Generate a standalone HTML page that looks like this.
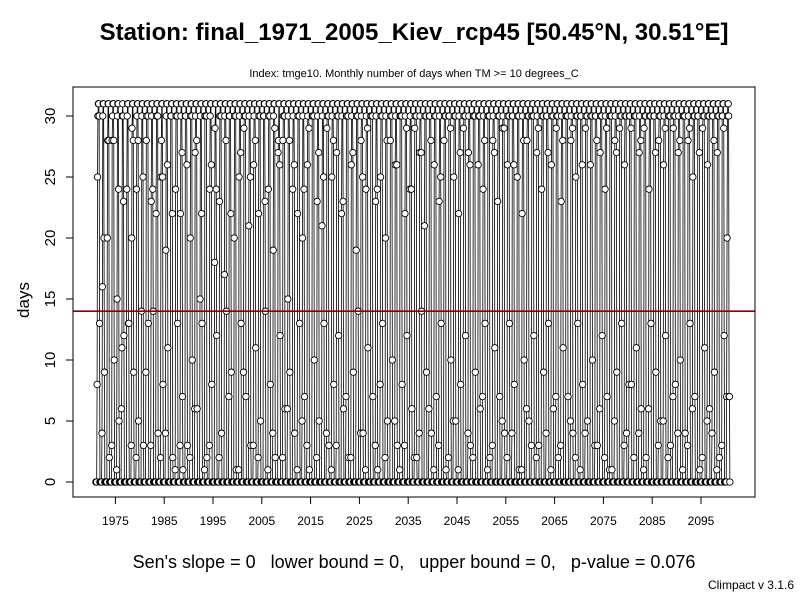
<!DOCTYPE html>
<html><head><meta charset="utf-8"><style>
body{margin:0;background:#fff}
svg{display:block;font-family:"Liberation Sans",Arial,sans-serif}
</style></head><body>
<svg id="c" width="800" height="600" viewBox="0 0 800 600">
<rect width="800" height="600" fill="#fff"/>
<text x="414" y="40" font-size="24" font-weight="bold" text-anchor="middle">Station: final_1971_2005_Kiev_rcp45 [50.45°N, 30.51°E]</text>
<text x="414" y="77" font-size="11" text-anchor="middle">Index: tmge10. Monthly number of days when TM &gt;= 10 degrees_C</text>
<text transform="translate(29,300) rotate(-90)" font-size="17" text-anchor="middle">days</text>
<text x="414" y="568" font-size="18" text-anchor="middle" style="white-space:pre">Sen's slope = 0   lower bound = 0,   upper bound = 0,   p-value = 0.076</text>
<text x="794" y="589" font-size="12" text-anchor="end">Climpact v 3.1.6</text>
<g id="plot"></g>
<rect x="73" y="87" width="682" height="410" fill="none" stroke="#000" stroke-width="1"/>
</svg>
<script>
const startYear = 1971;
const yTicks = [0,5,10,15,20,25,30];
const xTicks = [1975,1985,1995,2005,2015,2025,2035,2045,2055,2065,2075,2085,2095];
const trendValue = 14;
const aprVals = [8,4,0,3,1,6,0,3,2,0,
 9,3,0,2,4,0,1,3,0,2,
 6,0,1,3,0,2,0,7,0,1,
 9,0,3,2,0,1,4,0,2,6,
 0,1,5,3,0,2,0,4,1,3,
 0,7,2,0,4,1,0,3,8,2,
 0,5,1,3,0,2,4,0,6,1,
 3,0,2,5,1,0,4,2,0,7,
 1,3,0,5,2,4,0,1,6,3,
 2,0,4,1,7,3,0,5,2,1,
 4,0,3,6,2,1,5,0,3,8,
 2,4,1,6,0,3,5,2,7,4,
 1,3,6,0,2,5,4,1,3,7];
const mayVals = [25,16,20,28,15,11,24,20,24,14,
 28,23,22,25,19,30,24,22,30,20,
 27,15,30,24,18,23,17,30,20,25,
 29,21,26,22,30,24,19,27,28,15,
 24,22,20,26,30,23,21,29,25,27,
 22,30,26,19,28,24,30,23,25,20,
 28,26,30,22,24,29,27,21,30,26,
 23,28,30,25,22,29,27,30,26,24,
 30,28,23,29,26,30,25,22,28,30,
 27,24,30,26,29,23,30,28,25,30,
 29,26,30,27,24,30,28,29,26,30,
 30,27,29,24,30,28,26,30,29,27,
 30,28,25,30,29,26,30,27,30,20];
const junVals = [30,30,28,30,30,30,30,29,30,30,
 30,30,30,28,30,30,30,30,30,30,
 30,30,30,30,29,30,30,30,30,30,
 30,30,30,30,30,30,30,28,30,30,
 30,30,30,30,30,30,30,30,30,30,
 30,30,30,30,30,30,30,30,30,30,
 30,30,30,30,30,30,30,30,30,30,
 30,30,30,30,30,30,30,30,30,30,
 30,30,30,30,30,30,30,30,30,30,
 30,30,30,30,30,30,30,30,30,30,
 30,30,30,30,30,30,30,30,30,30,
 30,30,30,30,30,30,30,30,30,30,
 30,30,30,30,30,30,30,30,30,30];
const julVals = [31,31,31,31,31,31,31,31,31,31,
 31,31,31,31,31,31,31,31,31,31,
 31,31,31,31,31,31,31,31,31,31,
 31,31,31,31,31,31,31,31,31,31,
 31,31,31,31,31,31,31,31,31,31,
 31,31,31,31,31,31,31,31,31,31,
 31,31,31,31,31,31,31,31,31,31,
 31,31,31,31,31,31,31,31,31,31,
 31,31,31,31,31,31,31,31,31,31,
 31,31,31,31,31,31,31,31,31,31,
 31,31,31,31,31,31,31,31,31,31,
 31,31,31,31,31,31,31,31,31,31,
 31,31,31,31,31,31,31,31,31,31];
const augVals = [31,31,31,31,31,30,31,31,31,31,
 31,31,31,31,31,31,31,31,31,31,
 31,31,31,31,31,31,31,31,31,31,
 31,31,31,31,31,31,31,31,31,31,
 31,31,31,31,31,31,31,31,31,31,
 31,31,31,31,31,31,31,31,31,31,
 31,31,31,31,31,31,31,31,31,31,
 31,31,31,31,31,31,31,31,31,31,
 31,31,31,31,31,31,31,31,31,31,
 31,31,31,31,31,31,31,31,31,31,
 31,31,31,31,31,31,31,31,31,31,
 31,31,31,31,31,31,31,31,31,31,
 31,31,31,31,31,31,31,31,31,31];
const sepVals = [30,20,28,28,24,23,13,28,28,25,
 30,24,30,25,26,22,30,27,26,30,
 28,22,30,26,24,30,28,22,30,27,
 30,25,28,30,23,30,29,26,30,28,
 26,30,24,29,30,27,25,30,28,30,
 23,30,27,30,25,29,30,24,30,28,
 30,26,30,29,24,30,27,30,28,30,
 25,30,29,30,27,30,26,30,30,28,
 30,27,30,29,30,26,30,28,30,30,
 29,30,27,30,30,28,30,29,30,26,
 30,30,28,30,29,30,27,30,30,29,
 30,28,30,30,27,30,29,30,30,28,
 30,29,30,27,30,30,28,30,29,30];
const octVals = [13,9,2,10,5,12,13,9,5,3,
 13,14,4,8,11,2,13,7,3,10,
 6,13,2,8,12,4,14,9,1,13,
 7,3,11,5,14,8,2,12,6,9,
 4,13,7,1,10,5,13,3,8,12,
 6,2,9,14,4,11,7,1,13,5,
 10,3,8,12,6,2,14,9,4,7,
 13,1,10,5,8,12,3,9,6,13,
 2,11,7,4,13,8,1,10,5,12,
 3,9,13,6,2,11,7,4,13,8,
 5,10,3,12,7,1,9,13,4,8,
 11,6,2,13,9,5,12,3,8,10,
 4,13,7,1,11,6,9,2,12,7];
const janVals = [0,0,0,0,0,0,0,0,0,0,0,0,0,0,0,0,0,0,0,0,0,0,0,0,0,0,0,0,0,0,0,0,0,0,0,0,0,0,0,0,0,0,0,0,0,0,0,0,0,0,0,0,0,0,0,0,0,0,0,0,0,0,0,0,0,0,0,0,0,0,0,0,0,0,0,0,0,0,0,0,0,0,0,0,0,0,0,0,0,0,0,0,0,0,0,0,0,0,0,0,0,0,0,0,0,0,0,0,0,0,0,0,0,0,0,0,0,0,0,0,0,0,0,0,0,0,0,0,0,0];
const novVals = [0,0,0,0,0,0,0,0,0,0,0,0,0,0,0,0,0,1,0,0,0,0,0,0,0,0,0,0,0,0,0,0,0,0,0,0,0,0,0,0,0,0,0,0,0,0,0,0,0,0,0,0,0,0,0,0,0,0,0,0,0,0,0,0,0,0,0,0,0,0,0,0,0,0,0,0,0,0,0,0,0,0,0,0,0,0,0,0,0,0,0,0,0,0,0,0,0,0,0,0,0,0,0,0,0,0,0,0,0,0,0,0,0,0,0,0,0,0,0,0,0,0,0,0,0,0,0,0,0,7];
const monthSeries = [janVals,janVals,janVals,aprVals,mayVals,junVals,julVals,augVals,sepVals,octVals,novVals,janVals];

const NS = "http://www.w3.org/2000/svg";
const g = document.getElementById('plot');
const xs = yr => 701 + (yr - 2095) * 4.88;
const ys = v => 482 - v * 12.2;
function mk(tag, attrs, parent){ const e=document.createElementNS(NS,tag); for(const k in attrs) e.setAttribute(k,attrs[k]); (parent||g).appendChild(e); return e; }

const pts = [];
for (let i = 0; i < aprVals.length; i++) {
  for (let m = 0; m < 12; m++) {
    pts.push([xs(startYear + i + m / 12), ys(monthSeries[m][i])]);
  }
}
const line = mk('polyline', {points: pts.map(p => p[0].toFixed(2)+','+p[1].toFixed(2)).join(' '), fill:'none', stroke:'#000', 'stroke-width':'0.8'});


const ptsG = mk('g', {});


pts.forEach(p => { mk('circle', {cx:p[0].toFixed(2), cy:p[1].toFixed(2), r:'3.2', fill:'#fff', stroke:'#000', 'stroke-width':'0.9'}, ptsG); });

const tl = mk('line', {x1:73, x2:755, y1:ys(trendValue), y2:ys(trendValue), stroke:'#8b0000', 'stroke-width':'1.6'});



const ya = mk('g', {});


yTicks.forEach(t => {
  mk('line', {x1:66, x2:73, y1:ys(t), y2:ys(t), stroke:'#000'}, ya);
  const tx = mk('text', {transform:`translate(55,${ys(t)}) rotate(-90)`, 'font-size':'15', 'text-anchor':'middle'}, ya);
  tx.textContent = t;
  
  
});
const xa = mk('g', {});


mk('line', {x1:xs(1975), x2:xs(2095), y1:497, y2:497, stroke:'#000'}, xa);
xTicks.forEach(t => {
  mk('line', {x1:xs(t), x2:xs(t), y1:497, y2:504, stroke:'#000'}, xa);
  const tx = mk('text', {x:xs(t), y:525, 'font-size':'12', 'text-anchor':'middle'}, xa);
  tx.textContent = t;
  
  
});
</script>
</body></html>
